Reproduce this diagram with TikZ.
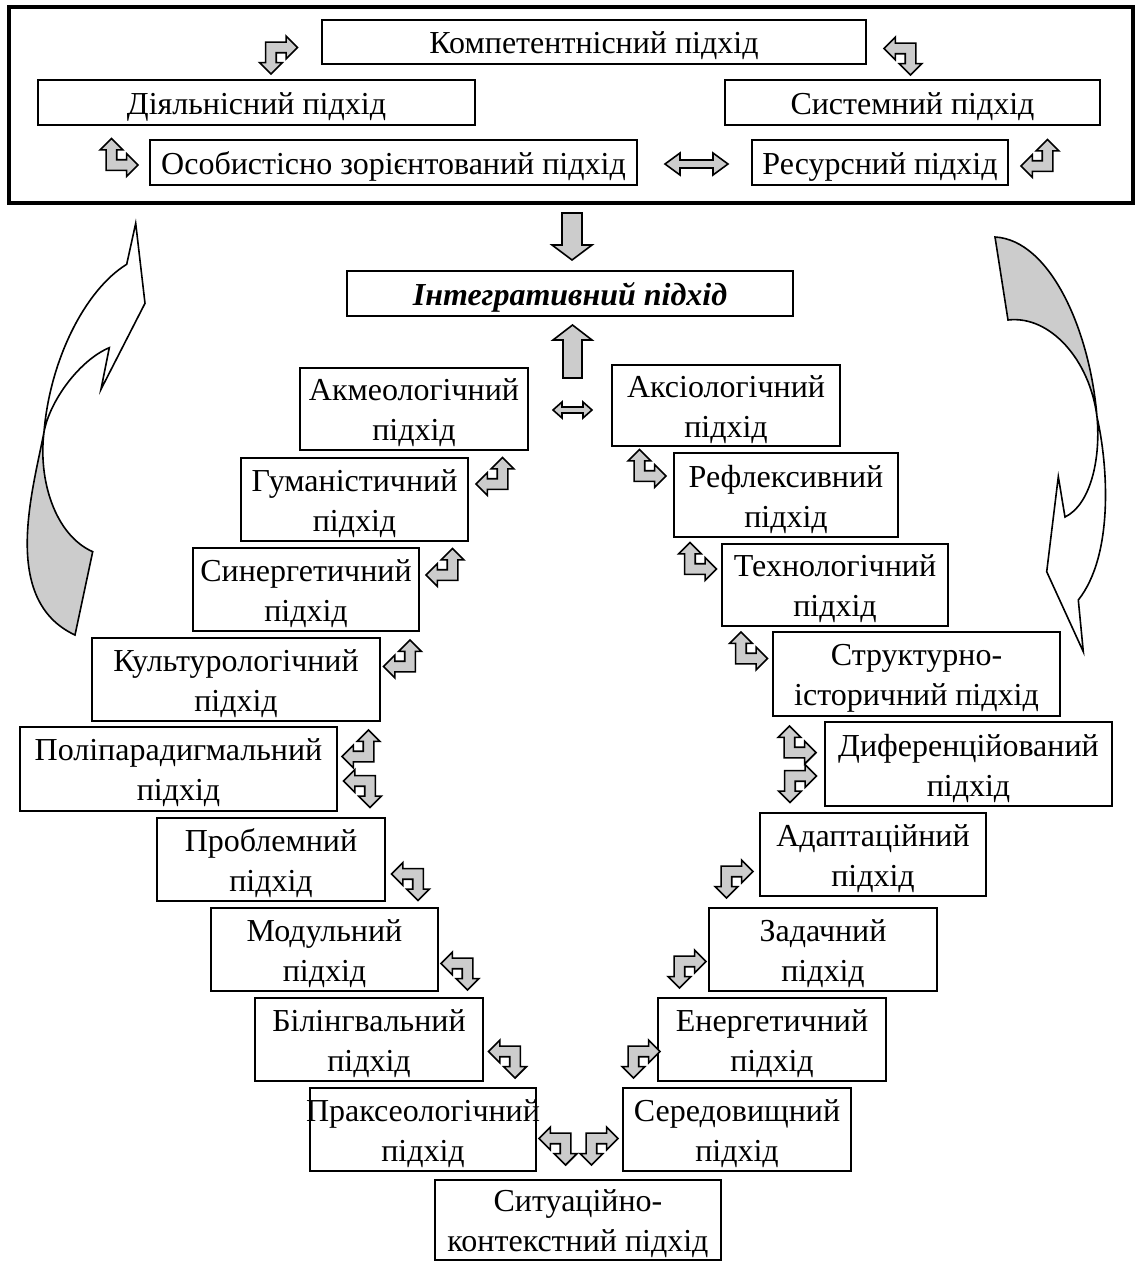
\documentclass[tikz,border=0pt]{standalone}
\usepackage{fontspec}
\setmainfont{Liberation Serif}
\definecolor{fillg}{RGB}{204,204,204}
\tikzset{
  box/.style={draw,line width=1.7pt,inner sep=0pt},
  txt/.style={font=\fontsize{32}{40}\selectfont,align=center,inner sep=0pt,yshift=-4pt},
  blk/.style={draw,line width=1.6pt,fill=fillg,line join=miter},
  bigw/.style={draw,line width=1.6pt,fill=white,line join=miter},
  bigg/.style={draw,line width=1.6pt,fill=fillg,line join=miter},
  bent/.pic={\path[blk] (-0.34,0.34) -- (0.2,0.34) -- (0.2,0.5) -- (0.5,0.2) -- (0.2,-0.1) -- (0.2,0.06) -- (-0.06,0.06) -- (-0.06,-0.2) -- (0.1,-0.2) -- (-0.2,-0.5) -- (-0.5,-0.2) -- (-0.34,-0.2) -- cycle;},
  bl/.style={scale=38},
  br/.style={xscale=-38,yscale=38},
  tl/.style={xscale=38,yscale=-38},
  tr/.style={xscale=-38,yscale=-38}
}
\begin{document}
\begin{tikzpicture}[x=1pt,y=-1pt]
\useasboundingbox (0,0) rectangle (1137,1261);
% frame
\draw[line width=4pt] (9,7) rectangle (1133,203);
% top boxes
\node[box,minimum width=544,minimum height=44,label={[txt]center:{Компетентнісний підхід}}] (komp) at (594,42) {};
\node[box,minimum width=437,minimum height=45,label={[txt]center:{Діяльнісний підхід}}] (diyal) at (256.5,102.5) {};
\node[box,minimum width=375,minimum height=45,label={[txt]center:{Системний підхід}}] (syst) at (912.5,102.5) {};
\node[box,minimum width=487,minimum height=45,label={[txt]center:{Особистісно зорієнтований підхід}}] (osob) at (393.5,162.5) {};
\node[box,minimum width=256,minimum height=45,label={[txt]center:{Ресурсний підхід}}] (resurs) at (880,162.5) {};
% top arrows
\pic[tl] at (278.5,55) {bent};
\pic[tr] at (903,56) {bent};
\pic[bl] at (119,157.5) {bent};
\pic[br] at (1040,158.5) {bent};
\path[blk] (665,164) -- (680,153) -- (680,160) -- (713,160) -- (713,153) -- (728,164) -- (713,175) -- (713,168) -- (680,168) -- (680,175) -- cycle;
% integrative
\path[blk] (562,213) -- (582,213) -- (582,245) -- (592,245) -- (572,260) -- (552,245) -- (562,245) -- cycle;
\node[box,minimum width=446,minimum height=45,label={[txt,font=\fontsize{32}{40}\selectfont\bfseries\itshape]center:{Інтегративний підхід}}] (integr) at (570,293.5) {};
\path[blk] (572.5,325) -- (592,340) -- (582,340) -- (582,378) -- (563,378) -- (563,340) -- (553,340) -- cycle;
\path[blk] (553,410) -- (562,402) -- (562,407) -- (583,407) -- (583,402) -- (592,410) -- (583,418) -- (583,413) -- (562,413) -- (562,418) -- cycle;
% left column
\node[box,minimum width=228,minimum height=82,label={[txt]center:{Акмеологічний\\підхід}}] (akmeo) at (414,409) {};
\node[box,minimum width=227,minimum height=83,label={[txt]center:{Гуманістичний\\підхід}}] (human) at (354.5,499.5) {};
\node[box,minimum width=226,minimum height=83,label={[txt]center:{Синергетичний\\підхід}}] (synerg) at (306,589.5) {};
\node[box,minimum width=288,minimum height=83,label={[txt]center:{Культурологічний\\підхід}}] (cultur) at (236,679.5) {};
\node[box,minimum width=317,minimum height=84,label={[txt]center:{Поліпарадигмальний\\підхід}}] (polip) at (178.5,769) {};
\node[box,minimum width=228,minimum height=83,label={[txt]center:{Проблемний\\підхід}}] (problem) at (271,859.5) {};
\node[box,minimum width=227,minimum height=83,label={[txt]center:{Модульний\\підхід}}] (modul) at (324.5,949.5) {};
\node[box,minimum width=228,minimum height=83,label={[txt]center:{Білінгвальний\\підхід}}] (biling) at (369,1039.5) {};
\node[box,minimum width=226,minimum height=83,label={[txt]center:{Праксеологічний\\підхід}}] (prakseo) at (423,1129.5) {};
% right column
\node[box,minimum width=228,minimum height=81,label={[txt]center:{Аксіологічний\\підхід}}] (aksio) at (726,405.5) {};
\node[box,minimum width=224,minimum height=84,label={[txt]center:{Рефлексивний\\підхід}}] (reflex) at (786,495) {};
\node[box,minimum width=226,minimum height=82,label={[txt]center:{Технологічний\\підхід}}] (tech) at (835,585) {};
\node[box,minimum width=287,minimum height=84,label={[txt]center:{Структурно-\\історичний підхід}}] (struct) at (916.5,674) {};
\node[box,minimum width=287,minimum height=84,label={[txt]center:{Диференційований\\підхід}}] (difer) at (968.5,764) {};
\node[box,minimum width=226,minimum height=83,label={[txt]center:{Адаптаційний\\підхід}}] (adapt) at (873,854.5) {};
\node[box,minimum width=228,minimum height=83,label={[txt]center:{Задачний\\підхід}}] (zadach) at (823,949.5) {};
\node[box,minimum width=228,minimum height=83,label={[txt]center:{Енергетичний\\підхід}}] (energ) at (772,1039.5) {};
\node[box,minimum width=228,minimum height=83,label={[txt]center:{Середовищний\\підхід}}] (sered) at (737,1129.5) {};
\node[box,minimum width=286,minimum height=80,label={[txt]center:{Ситуаційно-\\контекстний підхід}}] (situat) at (578,1220) {};
% left column arrows
\pic[br] at (495,476.5) {bent};
\pic[br] at (445,567.5) {bent};
\pic[br] at (402.5,659) {bent};
\pic[br] at (361,749) {bent};
\pic[tr] at (362.5,788.5) {bent};
\pic[tr] at (410.5,881.5) {bent};
\pic[tr] at (460,971) {bent};
\pic[tr] at (507.5,1059) {bent};
\pic[tr] at (558,1146) {bent};
% right column arrows
\pic[bl] at (647,468.5) {bent};
\pic[bl] at (697.5,561.5) {bent};
\pic[bl] at (748.5,651) {bent};
\pic[bl] at (797,745) {bent};
\pic[tl] at (797.5,783.5) {bent};
\pic[tl] at (734,879) {bent};
\pic[tl] at (687,969) {bent};
\pic[tl] at (641,1059) {bent};
\pic[tl] at (599,1146) {bent};
% big curved arrow left
\path[bigw] (44,432) .. controls (50,400) and (80,360) .. (109.3,347.7) -- (101,389.3) -- (145,303.3) -- (135.7,223.3) -- (126.7,264.3) .. controls (85,290) and (50,360) .. (44,432) -- cycle;
\path[bigg] (44,432) .. controls (33,490) and (0,600) .. (75,635) -- (92.7,551.7) .. controls (55,535) and (38,480) .. (44,432) -- cycle;
% big curved arrow right
\path[bigw] (1097,417) .. controls (1101,460) and (1090,505) .. (1065,517) -- (1058.3,476.7) -- (1046.7,571.7) -- (1083.3,651.7) -- (1078.3,600) .. controls (1114,555) and (1108,465) .. (1097,417) -- cycle;
\path[bigg] (995,237) .. controls (1050,240) and (1090,330) .. (1097,417) .. controls (1090,360) and (1050,315) .. (1008,320) -- cycle;
\end{tikzpicture}
\end{document}
